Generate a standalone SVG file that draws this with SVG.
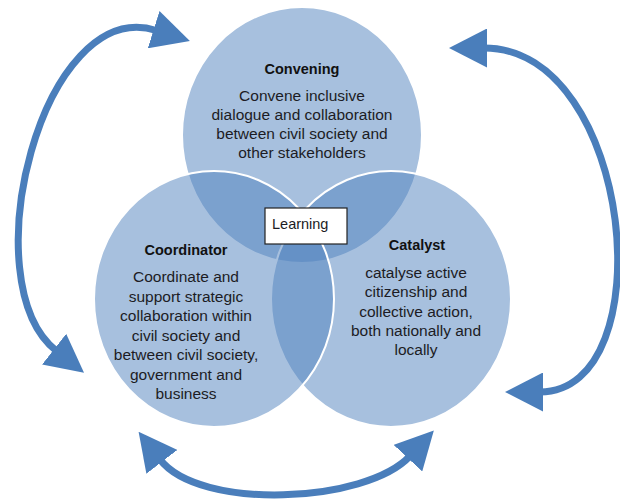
<svg xmlns="http://www.w3.org/2000/svg" width="620" height="503" viewBox="0 0 620 503">
<style>
.c{fill:#4f81bd;fill-opacity:0.5;stroke:#ffffff;stroke-width:2}
.t{font-family:"Liberation Sans",Arial,sans-serif;font-size:15.5px;fill:#1c1c24;text-anchor:middle}
.h{font-family:"Liberation Sans",Arial,sans-serif;font-size:14.5px;font-weight:bold;fill:#111;text-anchor:middle}
.a{fill:none;stroke:#4a7ebb;stroke-width:7}
</style>
<defs>
<marker id="ah" viewBox="0 0 38 39" refX="3" refY="19.5" markerWidth="38" markerHeight="39" markerUnits="userSpaceOnUse" orient="auto-start-reverse">
<path d="M0,0 L38,19.5 L0,39 z" fill="#4a7ebb"/>
</marker>
</defs>
<g id="connectors">
<path class="a" d="M156.5,30.5 C42,-5.5 -30,283 56.5,351" marker-start="url(#ah)" marker-end="url(#ah)"/>
<path class="a" d="M484,48 C634,48 665,392 540,392" marker-start="url(#ah)" marker-end="url(#ah)"/>
<path class="a" d="M160,459.5 C199.7,510.9 365.8,503.5 410,456" marker-start="url(#ah)" marker-end="url(#ah)"/>
</g>
<g id="convening">
<ellipse class="c" cx="302" cy="135" rx="120" ry="128"/>
<text class="h" x="302" y="74">Convening</text>
<text class="t" x="302" y="101">Convene inclusive</text>
<text class="t" x="302" y="120">dialogue and collaboration</text>
<text class="t" x="302" y="139">between civil society and</text>
<text class="t" x="302" y="158">other stakeholders</text>
</g>
<g id="catalyst">
<ellipse class="c" cx="391" cy="299" rx="120" ry="128"/>
<text class="h" x="417" y="250">Catalyst</text>
<text class="t" x="416" y="278">catalyse active</text>
<text class="t" x="416" y="297">citizenship and</text>
<text class="t" x="416" y="317">collective action,</text>
<text class="t" x="416" y="336">both nationally and</text>
<text class="t" x="416" y="355">locally</text>
</g>
<g id="coordinator">
<ellipse class="c" cx="214" cy="299" rx="120" ry="128"/>
<text class="h" x="186" y="255">Coordinator</text>
<text class="t" x="186" y="282">Coordinate and</text>
<text class="t" x="186" y="301.5">support strategic</text>
<text class="t" x="186" y="321">collaboration within</text>
<text class="t" x="186" y="340.5">civil society and</text>
<text class="t" x="186" y="360">between civil society,</text>
<text class="t" x="186" y="379.5">government and</text>
<text class="t" x="186" y="399">business</text>
</g>
<g id="learning">
<rect x="265" y="208" width="82" height="36" fill="#ffffff" stroke="#222" stroke-width="1.2"/>
<text x="272" y="229" font-family="Liberation Sans, Arial, sans-serif" font-size="14.5" fill="#1c1c24">Learning</text>
</g>
</svg>
